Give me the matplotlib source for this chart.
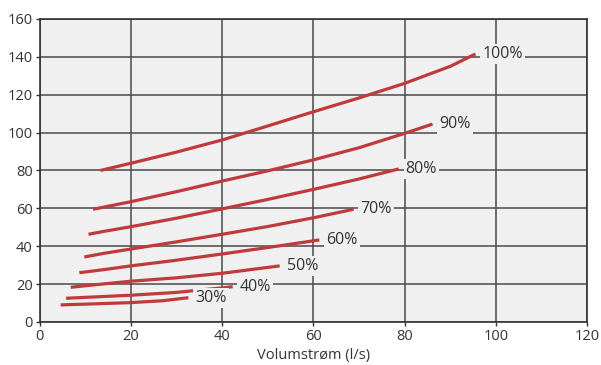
import numpy as np
import matplotlib.pyplot as plt

plt.rcParams['font.family'] = ['Open Sans', 'DejaVu Sans']

# curves (x: l/s, y: value)
x30 = [4.6, 10, 20, 27, 32.6]
y30 = [9.0, 9.4, 10.2, 11.2, 12.8]
x40 = [5.8, 12, 20, 30, 40, 42.3]
y40 = [12.5, 13.2, 14.1, 15.6, 18.0, 18.6]
x50 = [6.8, 12, 20, 30, 40, 52.6]
y50 = [18.3, 19.6, 21.5, 23.3, 25.7, 29.6]
x60 = [8.7, 14, 20, 30, 40, 50, 61.3]
y60 = [26.0, 27.6, 29.6, 32.6, 35.9, 39.3, 43.3]
x70 = [9.8, 14, 20, 30, 40, 50, 60, 68.8]
y70 = [34.3, 36.2, 38.5, 42.3, 46.3, 50.4, 55.0, 59.5]
x80 = [10.7, 14, 20, 30, 40, 50, 60, 70, 78.7]
y80 = [46.3, 47.8, 50.3, 54.8, 59.7, 64.7, 70.0, 75.5, 80.8]
x90 = [11.7, 20, 30, 40, 50, 60, 70, 80, 86.1]
y90 = [59.5, 63.5, 68.8, 74.4, 79.8, 85.6, 92.0, 99.6, 104.5]
x100 = [13.3, 20, 30, 40, 50, 60, 70, 80, 90, 95.5]
y100 = [80.0, 83.8, 89.7, 96.1, 103.5, 111.0, 118.3, 126.0, 135.0, 141.5]

curves = [(x30, y30), (x40, y40), (x50, y50), (x60, y60),
          (x70, y70), (x80, y80), (x90, y90), (x100, y100)]
names = ['30%', '40%', '50%', '60%', '70%', '80%', '90%', '100%']

xticks = [0, 20, 40, 60, 80, 100, 120]
yticks = [0, 20, 40, 60, 80, 100, 120, 140, 160]

bg = '#f0f0f0'
red = '#c0393b'

fig = plt.figure(figsize=(6.01, 3.65), dpi=100)
ax = fig.add_axes([0.066, 0.118, 0.911, 0.83])
ax.set_facecolor(bg)

for (xs, ys), lab in zip(curves, names):
    ax.plot(xs, ys, color=red, lw=2.3, solid_capstyle='butt', zorder=3)
    ax.text(xs[-1] + 1.5, ys[-1], lab, fontsize=11.5, color='#333333',
            va='center', ha='left', zorder=4,
            bbox=dict(facecolor=bg, edgecolor='none', pad=1.5))

ax.set_xlim(0, 120)
ax.set_ylim(0, 160)
ax.set_xticks(xticks)
ax.set_yticks(yticks)
ax.grid(True, color='#4a4a4a', lw=1.1, zorder=1)
ax.set_axisbelow(True)
for s in ax.spines.values():
    s.set_color('#333333')
    s.set_linewidth(1.2)
ax.tick_params(length=3, width=1, color='#333333', labelsize=10.5,
               labelcolor='#333333', pad=2)
ax.set_xlabel('Volumstrøm (l/s)', fontsize=10.5, color='#333333', labelpad=3)

fig.savefig('out.png', dpi=100)
